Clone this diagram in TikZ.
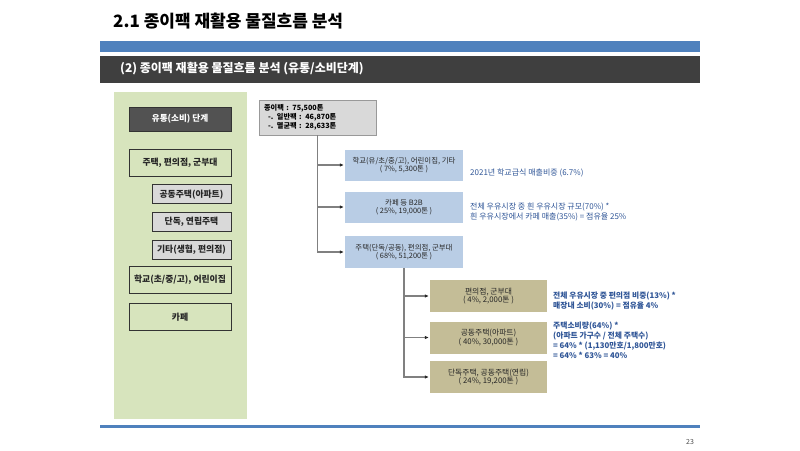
\documentclass[tikz,border=0pt]{standalone}
\usepackage{fontspec}
\setmainfont{Noto Sans CJK KR}
\usetikzlibrary{arrows.meta,positioning}
\definecolor{barblue}{HTML}{4F81BD}
\definecolor{bardark}{HTML}{3F3F3F}
\definecolor{panelgreen}{HTML}{D7E4BD}
\definecolor{boxgray}{HTML}{D9D9D9}
\definecolor{boxblue}{HTML}{B9CDE5}
\definecolor{boxtan}{HTML}{C4BD97}
\definecolor{noteblue}{HTML}{2F5597}
\definecolor{flowgray}{HTML}{808080}
\tikzstyle{stagebox} = [draw=black!80, line width=0.8pt, fill=black!68, text=white,
minimum width=102pt, minimum height=24pt, font=\bfseries\fontsize{8.6}{10}\selectfont]
\tikzstyle{panelbox} = [draw=black!80, line width=0.8pt, fill=panelgreen, text=black!85,
minimum width=102pt, minimum height=27pt, inner sep=1pt, font=\bfseries\fontsize{8.8}{10}\selectfont]
\tikzstyle{subbox} = [draw=black!80, line width=0.8pt, fill=boxgray, text=black!85,
minimum width=79pt, minimum height=19pt, inner sep=1pt, font=\bfseries\fontsize{8.8}{10}\selectfont]
\tikzstyle{topbox} = [draw=black!40, line width=0.8pt, fill=boxgray, text width=107pt, align=left,
minimum width=117pt, minimum height=35pt, inner sep=2pt, font=\bfseries\fontsize{7.2}{8.8}\selectfont]
\tikzstyle{bluebox} = [fill=boxblue, minimum width=118pt, minimum height=31pt, align=center,
inner sep=1pt, text=black!85, font=\fontsize{7.4}{8.6}\selectfont]
\tikzstyle{tanbox} = [bluebox, fill=boxtan, minimum width=117pt, minimum height=32pt, font=\fontsize{7.8}{8.8}\selectfont]
\tikzstyle{note} = [anchor=west, align=left, inner sep=0pt, text=noteblue, font=\fontsize{8}{10}\selectfont]
\tikzstyle{flow} = [draw=flowgray, line width=1.2pt, -{Latex[length=4pt,width=3.6pt,color=black!85]}, shorten >=1pt]

\begin{document}
\begin{tikzpicture}[x=1pt, y=-1pt]
\useasboundingbox (0,0) rectangle (800,450);
\fill[white] (0,0) rectangle (800,450);

% title and header bars
\node[anchor=west, inner sep=0pt, font=\bfseries\fontsize{17}{20}\selectfont] (title) at (113,21) {2.1 종이팩 재활용 물질흐름 분석};
\fill[barblue] (100,41) rectangle (700,52);
\fill[bardark] (100,56) rectangle (700,83);
\node[anchor=west, inner sep=0pt, text=white, font=\bfseries\fontsize{12}{14}\selectfont] (subtitle) at (120,69) {(2) 종이팩 재활용 물질흐름 분석 (유통/소비단계)};

% left panel
\fill[panelgreen] (114,92) rectangle (247,419);
\node[stagebox] (stage) at (180,119) {유통(소비) 단계};
\node[panelbox] (home) at (180,162.5) {주택, 편의점, 군부대};
\node[subbox, below left=8pt and 0pt of home.south east] (apt) {공동주택(아파트)};
\node[subbox, below=8pt of apt] (detached) {단독, 연립주택};
\node[subbox, below=8pt of detached] (etc) {기타(생협, 편의점)};
\node[panelbox] (school) at (180,280) {학교(초/중/고), 어린이집};
\node[panelbox] (cafe) at (180,317) {카페};

% flow boxes
\node[topbox] (total) at (317.5,117.5) {종이팩 : 75,500톤\\\hspace*{4pt}-. 일반팩 : 46,870톤\\\hspace*{4pt}-. 멸균팩 : 28,633톤};

\node[bluebox] (schoolflow) at (404,165) {학교(유/초/중/고), 어린이집, 기타\\( 7\%, 5,300톤 )};
\node[bluebox] (cafeflow) at (404,207) {카페 등 B2B\\( 25\%, 19,000톤 )};
\node[bluebox, minimum height=32pt] (homeflow) at (404,252) {주택(단독/공동), 편의점, 군부대\\( 68\%, 51,200톤 )};

\node[tanbox] (convflow) at (488.5,296) {편의점, 군부대\\( 4\%, 2,000톤 )};
\node[tanbox] (aptflow) at (488.5,337.5) {공동주택(아파트)\\( 40\%, 30,000톤 )};
\node[tanbox] (detachedflow) at (488.5,377) {단독주택, 공동주택(연립)\\( 24\%, 19,200톤 )};

% notes
\node[note] (schoolnote) at (470,173) {2021년 학교급식 매출비중 (6.7\%)};
\node[note] (cafenote) at (470,212) {전체 우유시장 중 흰 우유시장 규모(70\%) *\\흰 우유시장에서 카페 매출(35\%) = 점유율 25\%};
\node[note, font=\bfseries\fontsize{7.8}{10}\selectfont] (convnote) at (553,301) {전체 우유시장 중 편의점 비중(13\%) *\\매장내 소비(30\%) = 점유율 4\%};
\node[note, font=\bfseries\fontsize{7.8}{10}\selectfont] (aptnote) at (553,340) {주택소비량(64\%) *\\(아파트 가구수 / 전체 주택수)\\= 64\% * (1,130만호/1,800만호)\\= 64\% * 63\% = 40\%};

% connectors
\path[flow] (total.south) |- (schoolflow.west);
\path[flow] (total.south) |- (cafeflow.west);
\path[flow] (total.south) |- (homeflow.west);
\path[flow] (homeflow.south) |- (convflow.west);
\path[flow] (homeflow.south) |- (aptflow.west);
\path[flow] (homeflow.south) |- (detachedflow.west);

% footer
\fill[barblue] (100,425) rectangle (700,428);
\node[text=black!70, font=\fontsize{7}{8}\selectfont] (pagenum) at (690,442) {23};
\end{tikzpicture}
\end{document}
